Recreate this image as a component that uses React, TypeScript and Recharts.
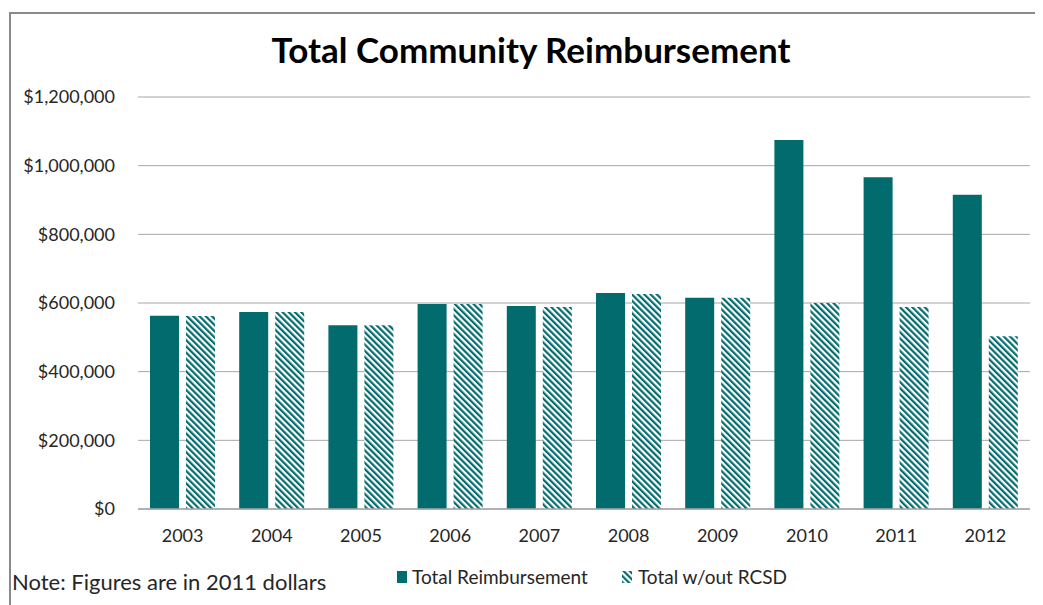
import React from "react";
import { BarChart, Bar, XAxis, YAxis, CartesianGrid } from "recharts";

const years = ["2003", "2004", "2005", "2006", "2007", "2008", "2009", "2010", "2011", "2012"];
const totalReimbursement = [563000, 574000, 535000, 597000, 591000, 629000, 615000, 1075000, 966000, 915000];
const totalWithoutRCSD = [562000, 574000, 535000, 597000, 588000, 626000, 615000, 600000, 588000, 503000];
const yTicks = [0, 200000, 400000, 600000, 800000, 1000000, 1200000];

const data = years.map((y, i) => ({
  year: y,
  total: totalReimbursement[i],
  noRcsd: totalWithoutRCSD[i],
}));

const TEAL = "#016b6d";
const FONT = "Lato, 'Open Sans', sans-serif";
const TEXT = "#262626";

const fmt = (v: number) => "$" + v.toLocaleString("en-US");

export default function App() {
  return (
    <div style={{ position: "relative", width: 1035, height: 597, fontFamily: FONT }}>
      <div
        style={{
          position: "absolute",
          left: 1,
          top: 4,
          width: 1034,
          height: 593,
          borderLeft: "2px solid #8a8a8a",
          borderTop: "2px solid #8a8a8a",
          boxSizing: "border-box",
        }}
      />
      <div
        style={{
          position: "absolute",
          left: 0,
          top: 20,
          width: 1046,
          textAlign: "center",
          fontSize: 35,
          fontWeight: 700,
          color: "#000",
        }}
      >
        Total Community Reimbursement
      </div>
      <BarChart
        width={1035}
        height={597}
        data={data}
        margin={{ top: 89, right: 13, left: 0, bottom: 66 }}
        barGap={7}
        barCategoryGap={12}
        style={{ position: "absolute", left: 0, top: 0 }}
      >
        <defs>
          <pattern
            id="hatch"
            patternUnits="userSpaceOnUse"
            width="4.4"
            height="4.4"
            patternTransform="rotate(-45)"
          >
            <rect x="0" y="0" width="4.4" height="4.4" fill="#ffffff" />
            <rect x="0" y="0" width="2.2" height="4.4" fill={TEAL} />
          </pattern>
        </defs>
        <CartesianGrid vertical={false} stroke="#a6a6a6" strokeWidth={1} />
        <XAxis
          dataKey="year"
          axisLine={{ stroke: "#a6a6a6", strokeWidth: 1.5 }}
          tickLine={false}
          tickSize={6}
          tickMargin={14}
          height={30}
          tick={{ fontSize: 18, fill: TEXT, fontFamily: FONT }}
        />
        <YAxis
          width={130}
          domain={[0, 1200000]}
          ticks={yTicks}
          tickFormatter={fmt}
          axisLine={false}
          tickLine={false}
          tickSize={6}
          tickMargin={17}
          tick={{ fontSize: 18, fill: TEXT, fontFamily: FONT }}
        />
        <Bar dataKey="total" fill={TEAL} isAnimationActive={false} />
        <Bar dataKey="noRcsd" fill="url(#hatch)" isAnimationActive={false} />
      </BarChart>
      <div
        style={{
          position: "absolute",
          left: 4,
          top: 560,
          fontSize: 22,
          color: TEXT,
          whiteSpace: "nowrap",
        }}
      >
        Note: Figures are in 2011 dollars
      </div>
      <div
        style={{
          position: "absolute",
          left: 389,
          top: 557,
          fontSize: 19,
          color: TEXT,
          display: "flex",
          alignItems: "center",
          whiteSpace: "nowrap",
        }}
      >
        <svg width={10} height={12} style={{ marginRight: 5 }}>
          <rect x={0} y={0} width={10} height={12} fill={TEAL} />
        </svg>
        <span>Total Reimbursement</span>
        <svg width={10} height={12} style={{ marginLeft: 34, marginRight: 6 }}>
          <defs>
            <pattern
              id="hatchLeg"
              patternUnits="userSpaceOnUse"
              width="4.4"
              height="4.4"
              patternTransform="rotate(-45)"
            >
              <rect x="0" y="0" width="4.4" height="4.4" fill="#ffffff" />
              <rect x="0" y="0" width="2.2" height="4.4" fill={TEAL} />
            </pattern>
          </defs>
          <rect x={0} y={0} width={10} height={12} fill="url(#hatchLeg)" />
        </svg>
        <span>Total w/out RCSD</span>
      </div>
    </div>
  );
}
